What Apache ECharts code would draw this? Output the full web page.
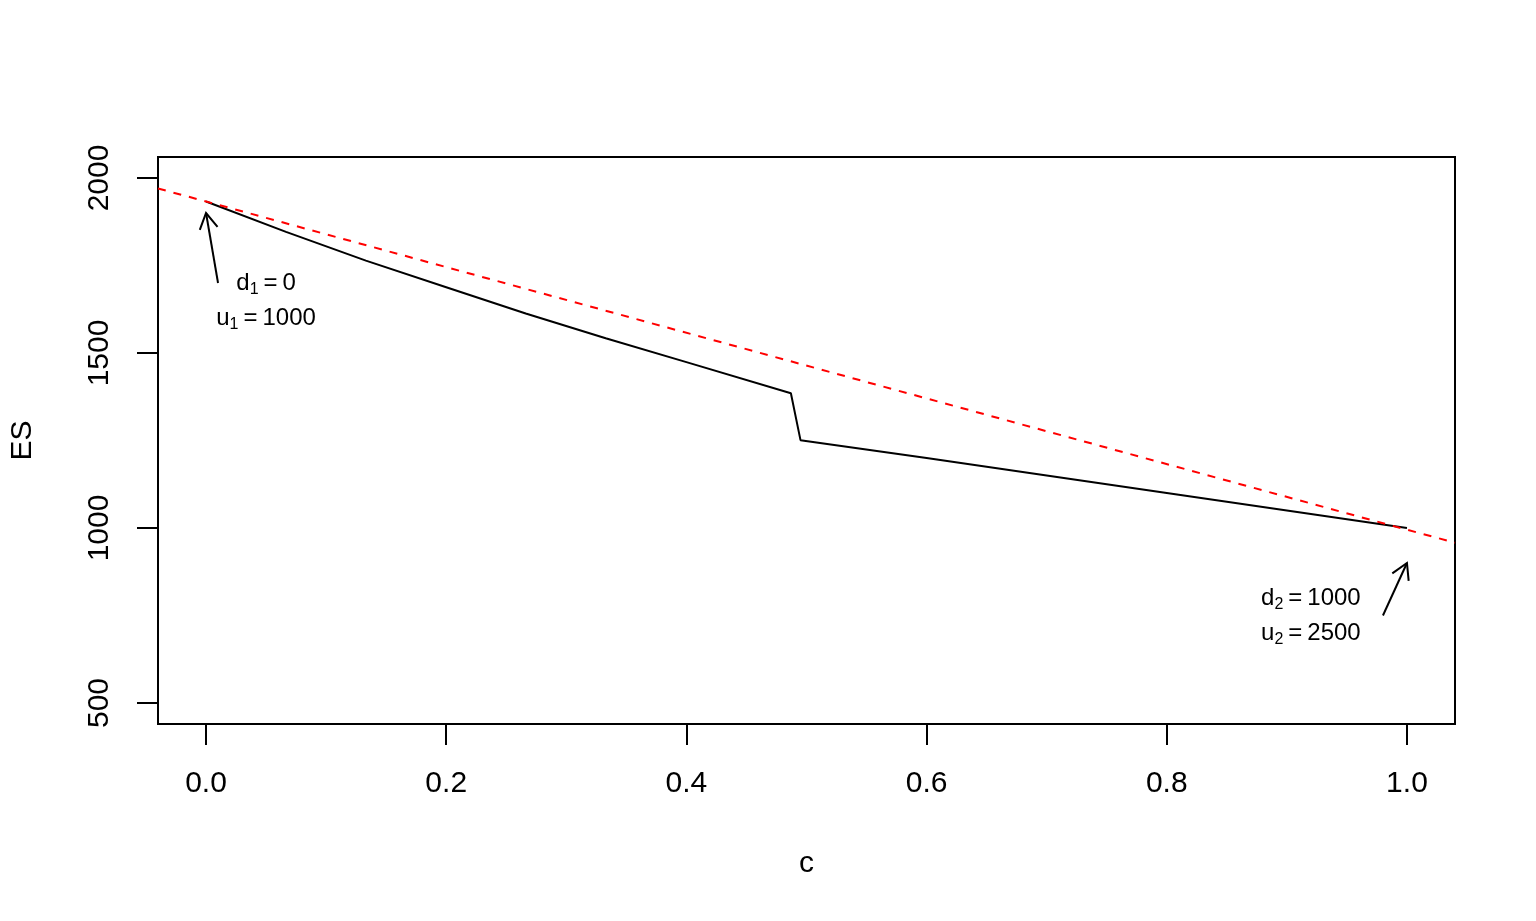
<!DOCTYPE html>
<html>
<head>
<meta charset="utf-8">
<script src="https://cdn.jsdelivr.net/npm/echarts@6/dist/echarts.min.js"></script>
<style>
html,body{margin:0;padding:0;background:#fff;}
#chart{width:1536px;height:921px;}
</style>
</head>
<body>
<div id="chart"></div>
<script>
// ---- data ----
const esC = [0, 0.0666, 0.1331, 0.2, 0.2662, 0.3328, 0.4, 0.487, 0.495, 0.6, 0.8, 1.0];
const esValues = [1933, 1846, 1764, 1688, 1613, 1542, 1474, 1385, 1251, 1200, 1100, 1000];
const refC = [-0.04, 0, 1, 1.04];
const refValues = [1970, 1933, 995, 958];
const xTicks = [0, 0.2, 0.4, 0.6, 0.8, 1.0];
const xTickLabels = ['0.0', '0.2', '0.4', '0.6', '0.8', '1.0'];
const yTicks = [500, 1000, 1500, 2000];
const yTickLabels = ['500', '1000', '1500', '2000'];
const annoC = [0.05, 0.05, 0.92, 0.92];
const annoES = [1700, 1600, 800, 700];
const annoVar = ['d', 'u', 'd', 'u'];
const annoSub = ['1', '1', '2', '2'];
const annoVal = ['0', '1000', '1000', '2500'];
const arrowFromC = [0.01, 0.98];
const arrowFromES = [1700, 750];
const arrowToC = [0, 1];
const arrowToES = [1900, 900];

const FONT = '"Liberation Sans", Arial, sans-serif';

function pick(ticks, labels, v) {
  const i = ticks.findIndex(t => Math.abs(t - v) < 1e-9);
  return i >= 0 ? labels[i] : '';
}

const chart = echarts.init(document.getElementById('chart'));
const option = {
  backgroundColor: '#fff',
  animation: false,
  grid: {left: 157, top: 157, right: 81, bottom: 197, show: true, borderColor: '#000', borderWidth: 2, backgroundColor: 'transparent'},
  xAxis: {
    type: 'value', min: -0.04, max: 1.04,
    name: 'c', nameLocation: 'middle', nameGap: 125,
    nameTextStyle: {fontFamily: FONT, fontSize: 30, color: '#000'},
    axisLine: {show: true, onZero: false, lineStyle: {color: '#000', width: 2}},
    axisTick: {show: true, length: 21, lineStyle: {color: '#000', width: 2}, customValues: xTicks},
    axisLabel: {fontFamily: FONT, fontSize: 30, color: '#000', margin: 45,
      customValues: xTicks,
      formatter: v => pick(xTicks, xTickLabels, v)},
    splitLine: {show: false}
  },
  yAxis: {
    type: 'value', min: 440, max: 2060,
    name: 'ES', nameLocation: 'middle', nameGap: 120, nameRotate: 90,
    nameTextStyle: {fontFamily: FONT, fontSize: 30, color: '#000'},
    axisLine: {show: true, onZero: false, lineStyle: {color: '#000', width: 2}},
    axisTick: {show: true, length: 21, lineStyle: {color: '#000', width: 2}, customValues: yTicks},
    axisLabel: {fontFamily: FONT, fontSize: 30, color: '#000', margin: 43, rotate: 90,
      customValues: yTicks,
      formatter: v => pick(yTicks, yTickLabels, v)},
    splitLine: {show: false}
  },
  series: [
    {
      type: 'line', name: 'ES', data: esC.map((c, i) => [c, esValues[i]]),
      showSymbol: false, symbol: 'none', lineStyle: {color: '#000', width: 2}, z: 3
    },
    {
      type: 'line', name: 'ref', data: refC.map((c, i) => [c, refValues[i]]),
      showSymbol: false, symbol: 'none', lineStyle: {color: '#ff0000', width: 2, type: [8, 8]}, z: 4
    },
    {
      type: 'custom', name: 'arrows',
      data: arrowFromC.map((c, i) => [c, arrowFromES[i], arrowToC[i], arrowToES[i]]),
      encode: {x: [0, 2], y: [1, 3]},
      z: 5,
      renderItem: function (params, api) {
        const p1 = api.coord([api.value(0), api.value(1)]);
        const p2 = api.coord([api.value(2), api.value(3)]);
        const ang = Math.atan2(p2[1] - p1[1], p2[0] - p1[0]);
        const L = 18, a = Math.PI / 6;
        const h1 = [p2[0] - L * Math.cos(ang - a), p2[1] - L * Math.sin(ang - a)];
        const h2 = [p2[0] - L * Math.cos(ang + a), p2[1] - L * Math.sin(ang + a)];
        return {
          type: 'group',
          children: [
            {type: 'line', shape: {x1: p1[0], y1: p1[1], x2: p2[0], y2: p2[1]}, style: {stroke: '#000', lineWidth: 2}},
            {type: 'polyline', shape: {points: [h1, p2, h2]}, style: {stroke: '#000', lineWidth: 2, fill: null}}
          ]
        };
      }
    },
    {
      type: 'custom', name: 'labels',
      data: annoC.map((c, i) => [c, annoES[i], i]),
      encode: {x: 0, y: 1},
      z: 5,
      renderItem: function (params, api) {
        const p = api.coord([api.value(0), api.value(1)]);
        const i = api.value(2);
        return {
          type: 'text', x: p[0], y: p[1],
          style: {
            text: '{b|' + annoVar[i] + '}{s|' + annoSub[i] + '}{e|=}{b|' + annoVal[i] + '}',
            align: 'center', verticalAlign: 'middle', fill: '#000',
            rich: {
              b: {fontFamily: FONT, fontSize: 24, lineHeight: 30, color: '#000', verticalAlign: 'middle'},
              e: {fontFamily: FONT, fontSize: 24, lineHeight: 30, color: '#000', verticalAlign: 'middle', padding: [0, 5, 0, 5]},
              s: {fontFamily: FONT, fontSize: 16, lineHeight: 14, color: '#000', verticalAlign: 'bottom'}
            }
          }
        };
      }
    }
  ]
};
chart.setOption(option);
</script>
</body>
</html>
